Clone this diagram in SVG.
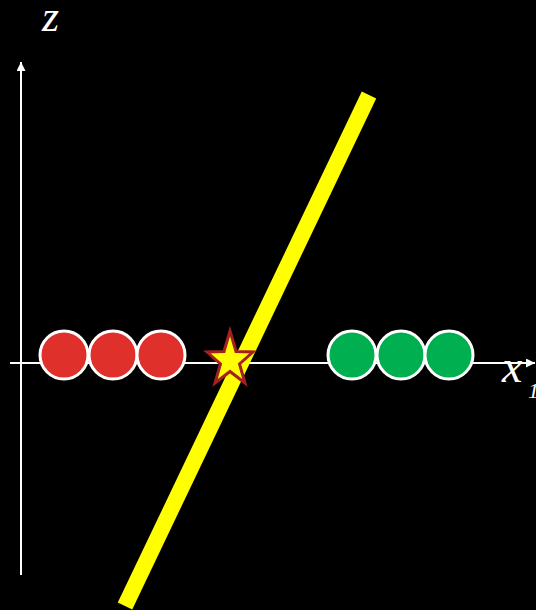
<svg xmlns="http://www.w3.org/2000/svg" width="536" height="610" viewBox="0 0 536 610">
<defs>
<style>
.axis{stroke:#fff;stroke-width:2;fill:none}
.lbl{font-family:"Liberation Serif",serif;font-style:italic;fill:#fff}
.red{fill:#E0302B;stroke:#fff;stroke-width:3}
.green{fill:#00B050;stroke:#fff;stroke-width:3}
</style>
<marker id="arr" viewBox="0 0 10 10" refX="10" refY="5" markerWidth="9" markerHeight="9" markerUnits="userSpaceOnUse" orient="auto">
<path d="M0,0 L10,5 L0,10 Z" fill="#fff"/>
</marker>
</defs>
<rect width="536" height="610" fill="#000"/>
<g id="connectors">
<line class="axis" x1="21" y1="575" x2="21" y2="62" marker-end="url(#arr)"/>
<line class="axis" x1="10" y1="363" x2="535" y2="363" marker-end="url(#arr)"/>
</g>
<g id="label-z"><text class="lbl" x="42" y="31" font-size="44">z</text></g>
<g id="label-x1"><text class="lbl" x="502" y="382" font-size="46">x</text><text class="lbl" x="528" y="398" font-size="22" font-style="normal">1</text></g>
<g id="red-points">
<circle class="red" cx="64" cy="355" r="24"/>
<circle class="red" cx="113" cy="355" r="24"/>
<circle class="red" cx="161" cy="355" r="24"/>
</g>
<g id="green-points">
<circle class="green" cx="352" cy="355" r="24"/>
<circle class="green" cx="401" cy="355" r="24"/>
<circle class="green" cx="449" cy="355" r="24"/>
</g>
<g id="boundary"><line x1="125" y1="606" x2="369" y2="95" stroke="#FFFF00" stroke-width="16"/></g>
<g id="star"><polygon points="230,331 236,351.5 253,352 239.5,364 245,383 230,371.5 215,383 220.5,364 207,352 224,351.5" fill="#FFFF00" stroke="#A52020" stroke-width="3" stroke-linejoin="miter"/></g>
</svg>
